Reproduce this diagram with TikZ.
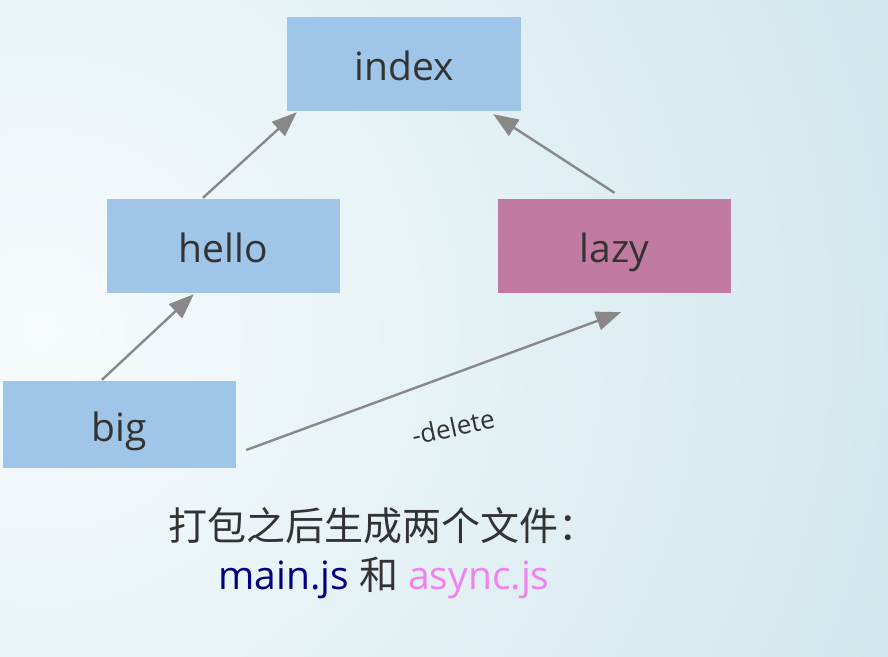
\documentclass[tikz,border=0pt]{standalone}
\usepackage{fontspec}
\setmainfont{Open Sans}
\newfontfamily\cjk{Noto Sans CJK SC}
\usetikzlibrary{arrows.meta,calc}
\definecolor{boxblue}{HTML}{9FC5E8}
\definecolor{boxmauve}{HTML}{C27BA0}
\definecolor{txt}{HTML}{333333}
\definecolor{arr}{HTML}{888888}
\definecolor{bgl}{HTML}{F7FBFD}
\definecolor{bgr}{HTML}{CFE6EC}
\definecolor{mainc}{HTML}{000080}
\definecolor{asyncc}{HTML}{EE82EE}
\tikzset{
  modbox/.style={rectangle, draw=none, minimum width=233pt, minimum height=94pt, inner sep=0pt, text=txt, text height=36pt, text depth=3pt, font=\fontsize{39}{46}\selectfont},
  dep/.style={draw=arr, line width=2.4pt, -{Triangle[length=25pt,width=19pt]}},
  lbl/.style={text=txt, font=\fontsize{26}{30}\selectfont},
  note/.style={text=txt, font=\cjk\fontsize{39}{46}\selectfont, inner sep=0pt}
}
\begin{document}
\begin{tikzpicture}[x=1pt,y=-1pt]
\begin{scope}
\clip (0,0) rectangle (888,656);
\fill[bgr] (0,0) rectangle (888,656);
\shade[inner color=bgl, outer color=bgr] (40,330) circle[radius=950];
\end{scope}
\useasboundingbox (0,0) rectangle (888,656);
\node[modbox, fill=boxblue, minimum width=234pt] (index) at (404,64) {index};
\node[modbox, fill=boxblue] (hello) at (223.5,246) {hello};
\node[modbox, fill=boxmauve] (lazy) at (614.5,246) {lazy};
\node[modbox, fill=boxblue, minimum height=87pt] (big) at (119.5,424.5) {big};
\draw[dep] ($(hello.north)+(-20.5,-1)$) -- ($(index.south west)+(10,1)$);
\draw[dep] ($(lazy.north)+(0,-6)$) -- ($(index.south east)+(-28,3)$);
\draw[dep] ($(big.north)+(-17.5,-1)$) -- ($(hello.south west)+(87,1)$);
\draw[dep] ($(big.east)+(10,25.5)$) -- ($(lazy.south)+(6.5,19)$);
\node[lbl, rotate=12] (del) at (453,427) {-delete};
\node[note] (line1) at (383,526) {打包之后生成两个文件：};
\node[note, font=\fontsize{39}{46}\selectfont] (line2) at (384,578) {\textcolor{mainc}{main.js} {\cjk 和} \textcolor{asyncc}{async.js}};
\end{tikzpicture}
\end{document}
